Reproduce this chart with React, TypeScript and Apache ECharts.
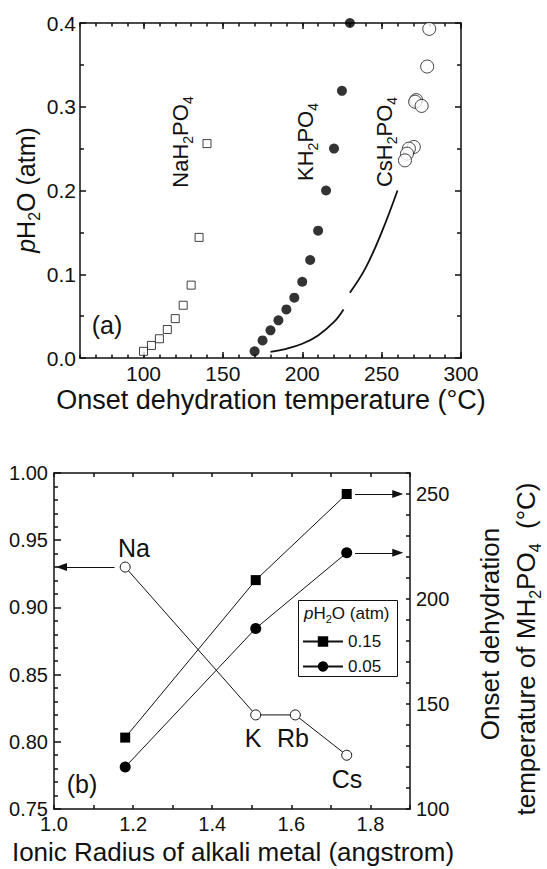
import React, { useEffect, useRef } from "react";
import * as echarts from "echarts";

const FONT = "'Liberation Sans', Arial, Helvetica, sans-serif";
const INK = "#111111";

// ---------- Panel (a): pH2O vs onset dehydration temperature ----------
const naTemp = [100, 105, 110, 115, 120, 125, 130, 135, 140];
const naP = [0.008, 0.015, 0.023, 0.034, 0.047, 0.063, 0.087, 0.144, 0.256];

const kTemp = [170, 175, 180, 185, 190, 195, 200, 205, 210, 215, 220, 225, 230];
const kP = [0.008, 0.021, 0.033, 0.045, 0.058, 0.072, 0.091, 0.117, 0.152, 0.2, 0.25, 0.319, 0.4];

const csTemp = [280, 278.7, 271.8, 271.1, 275.2, 270.3, 267.2, 266, 264.7];
const csP = [0.393, 0.348, 0.308, 0.306, 0.301, 0.252, 0.25, 0.244, 0.236];

const curveLowT = [180, 190, 200, 210, 220, 226];
const curveLowP = [0.0072, 0.011, 0.017, 0.027, 0.043, 0.058];
const curveHighT = [230, 240, 250, 260];
const curveHighP = [0.078, 0.108, 0.15, 0.2];

const aTempTicks = [100, 150, 200, 250, 300];

// ---------- Panel (b): vs ionic radius ----------
const metals = ["Na", "K", "Rb", "Cs"];
const radius = [1.18, 1.51, 1.61, 1.74];
const ratio = [0.93, 0.82, 0.82, 0.79];

const onsetRadius = [1.18, 1.51, 1.74];
const onset015 = [134, 209, 250];
const onset005 = [120, 186, 222];

const bRadiusTicks = [1.0, 1.2, 1.4, 1.6, 1.8];
const bOnsetTicks = [100, 150, 200, 250];

const pairs = (xs: number[], ys: number[]) => xs.map((x, i) => [x, ys[i]]);

const rich = (size: number) => ({
  n: { fontSize: size, fontFamily: FONT, fill: INK, lineHeight: Math.round(size * 1.3) },
  i: { fontSize: size, fontFamily: FONT, fill: INK, fontStyle: "italic", lineHeight: Math.round(size * 1.3) },
  s: { fontSize: Math.round(size * 0.62), fontFamily: FONT, fill: INK, verticalAlign: "bottom", lineHeight: Math.round(size * 0.62) },
});

const lineStyle = { color: INK, width: 1.5 };

function App() {
  const ref = useRef<HTMLDivElement>(null);

  useEffect(() => {
    if (!ref.current) return;
    const chart = echarts.init(ref.current, undefined, { renderer: "svg" });

    const labelStyle = (size: number, margin: number) => ({
      color: INK,
      fontSize: size,
      fontFamily: FONT,
      margin,
    });

    const option: any = {
      animation: false,
      backgroundColor: "#ffffff",
      grid: [
        { left: 80, top: 23, width: 381, height: 335 },
        { left: 54, top: 473, width: 356, height: 336 },
      ],
      xAxis: [
        {
          gridIndex: 0, type: "value", position: "bottom", min: 60, max: 300, interval: 10,
          axisLine: { show: true, lineStyle },
          axisTick: { show: true, inside: true, length: 6, customValues: aTempTicks, lineStyle },
          axisLabel: { ...labelStyle(21, 5), customValues: aTempTicks },
          splitLine: { show: false },
        },
        {
          gridIndex: 0, type: "value", position: "bottom", min: 60, max: 300, interval: 10,
          axisLine: { show: false },
          axisTick: { show: true, inside: true, length: 3.5, lineStyle },
          axisLabel: { show: false },
          splitLine: { show: false },
        },
        {
          gridIndex: 0, type: "value", position: "top", min: 60, max: 300, interval: 10,
          axisLine: { show: true, lineStyle },
          axisTick: { show: true, inside: true, length: 6, customValues: aTempTicks, lineStyle },
          axisLabel: { show: false },
          splitLine: { show: false },
        },
        {
          gridIndex: 0, type: "value", position: "top", min: 60, max: 300, interval: 10,
          axisLine: { show: false },
          axisTick: { show: true, inside: true, length: 3.5, lineStyle },
          axisLabel: { show: false },
          splitLine: { show: false },
        },
        {
          gridIndex: 1, type: "value", position: "bottom", min: 1.0, max: 1.9, interval: 0.1,
          axisLine: { show: true, lineStyle },
          axisTick: { show: true, inside: true, length: 4, lineStyle },
          axisLabel: { ...labelStyle(20, 5), customValues: bRadiusTicks, formatter: (v: number) => v.toFixed(1) },
          splitLine: { show: false },
        },
        {
          gridIndex: 1, type: "value", position: "top", min: 1.0, max: 1.9, interval: 0.1,
          axisLine: { show: true, lineStyle },
          axisTick: { show: true, inside: true, length: 4, lineStyle },
          axisLabel: { show: false },
          splitLine: { show: false },
        },
      ],
      yAxis: [
        {
          gridIndex: 0, type: "value", position: "left", min: 0, max: 0.4, interval: 0.1,
          axisLine: { show: true, lineStyle },
          axisTick: { show: true, inside: true, length: 6, lineStyle },
          minorTick: { show: true, splitNumber: 2, length: 4, lineStyle },
          axisLabel: { ...labelStyle(21, 4), formatter: (v: number) => v.toFixed(1) },
          splitLine: { show: false },
        },
        {
          gridIndex: 0, type: "value", position: "right", min: 0, max: 0.4, interval: 0.1,
          axisLine: { show: true, lineStyle },
          axisTick: { show: true, inside: true, length: 6, lineStyle },
          minorTick: { show: true, splitNumber: 2, length: 4, lineStyle },
          axisLabel: { show: false },
          splitLine: { show: false },
        },
        {
          gridIndex: 1, type: "value", position: "left", min: 0.75, max: 1.0, interval: 0.05,
          axisLine: { show: true, lineStyle },
          axisTick: { show: true, inside: true, length: 7, lineStyle },
          minorTick: { show: true, splitNumber: 5, length: 4, lineStyle },
          axisLabel: { ...labelStyle(20, 6), formatter: (v: number) => v.toFixed(2) },
          splitLine: { show: false },
        },
        {
          gridIndex: 1, type: "value", position: "right", min: 100, max: 260, interval: 10,
          axisLine: { show: true, lineStyle },
          axisTick: { show: true, inside: true, length: 4, lineStyle },
          axisLabel: { ...labelStyle(20, 6), customValues: bOnsetTicks },
          splitLine: { show: false },
        },
      ],
      legend: {
        data: ["0.15", "0.05"],
        orient: "vertical",
        left: 302,
        top: 633,
        padding: 0,
        itemWidth: 40,
        itemHeight: 13,
        itemGap: 8,
        textStyle: { color: INK, fontSize: 17, fontFamily: FONT },
        inactiveColor: INK,
        selectedMode: false,
      },
      series: [
        {
          name: "NaH2PO4", type: "scatter", xAxisIndex: 0, yAxisIndex: 0,
          data: pairs(naTemp, naP), symbol: "rect", symbolSize: 8,
          itemStyle: { color: "#ffffff", borderColor: INK, borderWidth: 1 },
        },
        {
          name: "KH2PO4", type: "scatter", xAxisIndex: 0, yAxisIndex: 0,
          data: pairs(kTemp, kP), symbol: "circle", symbolSize: 10,
          itemStyle: { color: "#000000" },
        },
        {
          name: "CsH2PO4", type: "scatter", xAxisIndex: 0, yAxisIndex: 0,
          data: pairs(csTemp, csP), symbol: "circle", symbolSize: 13,
          itemStyle: { color: "#ffffff", borderColor: INK, borderWidth: 1 },
        },
        {
          name: "curveLow", type: "line", xAxisIndex: 0, yAxisIndex: 0, z: 1,
          data: pairs(curveLowT, curveLowP), smooth: 0.4, showSymbol: false, symbol: "none",
          lineStyle: { color: INK, width: 1.8 },
        },
        {
          name: "curveHigh", type: "line", xAxisIndex: 0, yAxisIndex: 0, z: 1,
          data: pairs(curveHighT, curveHighP), smooth: 0.4, showSymbol: false, symbol: "none",
          lineStyle: { color: INK, width: 1.8 },
        },
        {
          name: "ratio", type: "line", xAxisIndex: 4, yAxisIndex: 2,
          data: pairs(radius, ratio), symbol: "circle", symbolSize: 10,
          itemStyle: { color: "#ffffff", borderColor: INK, borderWidth: 1 },
          lineStyle: { color: INK, width: 1 },
          markLine: {
            silent: true, symbol: ["none", "triangle"], symbolSize: [8, 11],
            lineStyle: { color: INK, width: 1, type: "solid" }, label: { show: false },
            data: [[{ coord: [1.153, ratio[0]] }, { coord: [1.019, ratio[0]] }]],
          },
        },
        {
          name: "0.15", type: "line", xAxisIndex: 4, yAxisIndex: 3,
          data: pairs(onsetRadius, onset015), symbol: "rect", symbolSize: 10,
          itemStyle: { color: "#000000" },
          lineStyle: { color: INK, width: 1 },
          markLine: {
            silent: true, symbol: ["none", "triangle"], symbolSize: [8, 11],
            lineStyle: { color: INK, width: 1, type: "solid" }, label: { show: false },
            data: [[{ coord: [1.761, onset015[2]] }, { coord: [1.869, onset015[2]] }]],
          },
        },
        {
          name: "0.05", type: "line", xAxisIndex: 4, yAxisIndex: 3,
          data: pairs(onsetRadius, onset005), symbol: "circle", symbolSize: 11,
          itemStyle: { color: "#000000" },
          lineStyle: { color: INK, width: 1 },
          markLine: {
            silent: true, symbol: ["none", "triangle"], symbolSize: [8, 11],
            lineStyle: { color: INK, width: 1, type: "solid" }, label: { show: false },
            data: [[{ coord: [1.761, onset005[2]] }, { coord: [1.869, onset005[2]] }]],
          },
        },
      ],
      graphic: [
        {
          type: "text", x: 26, y: 190, rotation: Math.PI / 2,
          style: { text: "{i|p}{n|H}{s|2}{n|O (atm)}", rich: rich(25), align: "center", verticalAlign: "middle" },
        },
        {
          type: "text", x: 271, y: 400,
          style: { text: "Onset dehydration temperature (°C)", fontSize: 27, fontFamily: FONT, fill: INK, align: "center", verticalAlign: "middle" },
        },
        {
          type: "text", x: 180, y: 142, rotation: Math.PI / 2,
          style: { text: "{n|NaH}{s|2}{n|PO}{s|4}", rich: rich(22), align: "center", verticalAlign: "middle" },
        },
        {
          type: "text", x: 305, y: 142, rotation: Math.PI / 2,
          style: { text: "{n|KH}{s|2}{n|PO}{s|4}", rich: rich(22), align: "center", verticalAlign: "middle" },
        },
        {
          type: "text", x: 384, y: 142, rotation: Math.PI / 2,
          style: { text: "{n|CsH}{s|2}{n|PO}{s|4}", rich: rich(22), align: "center", verticalAlign: "middle" },
        },
        {
          type: "text", x: 107, y: 325,
          style: { text: "(a)", fontSize: 25, fontFamily: FONT, fill: INK, align: "center", verticalAlign: "middle" },
        },
        {
          type: "text", x: 134, y: 548,
          style: { text: metals[0], fontSize: 25, fontFamily: FONT, fill: INK, align: "center", verticalAlign: "middle" },
        },
        {
          type: "text", x: 253, y: 738,
          style: { text: metals[1], fontSize: 25, fontFamily: FONT, fill: INK, align: "center", verticalAlign: "middle" },
        },
        {
          type: "text", x: 293, y: 738,
          style: { text: metals[2], fontSize: 25, fontFamily: FONT, fill: INK, align: "center", verticalAlign: "middle" },
        },
        {
          type: "text", x: 347, y: 779,
          style: { text: metals[3], fontSize: 25, fontFamily: FONT, fill: INK, align: "center", verticalAlign: "middle" },
        },
        {
          type: "text", x: 82, y: 784,
          style: { text: "(b)", fontSize: 25, fontFamily: FONT, fill: INK, align: "center", verticalAlign: "middle" },
        },
        {
          type: "text", x: 233, y: 852,
          style: { text: "Ionic Radius of alkali metal (angstrom)", fontSize: 26, fontFamily: FONT, fill: INK, align: "center", verticalAlign: "middle" },
        },
        {
          type: "text", x: 490, y: 634, rotation: Math.PI / 2,
          style: { text: "Onset dehydration", fontSize: 26, fontFamily: FONT, fill: INK, align: "center", verticalAlign: "middle" },
        },
        {
          type: "text", x: 526, y: 649, rotation: Math.PI / 2,
          style: { text: "{n|temperature of MH}{s|2}{n|PO}{s|4}{n|  (°C)}", rich: rich(26), align: "center", verticalAlign: "middle" },
        },
        {
          type: "rect", shape: { x: 298.5, y: 600.5, width: 99, height: 76 },
          style: { fill: "none", stroke: INK, lineWidth: 1 },
        },
        {
          type: "text", x: 304, y: 613,
          style: { text: "{i|p}{n|H}{s|2}{n|O (atm)}", rich: rich(17), align: "left", verticalAlign: "middle" },
        },
      ],
    };

    chart.setOption(option);
    return () => chart.dispose();
  }, []);

  return (
    <div
      ref={ref}
      style={{ position: "fixed", left: 0, top: 0, width: 547, height: 869, background: "#fff" }}
    />
  );
}

export default App;
